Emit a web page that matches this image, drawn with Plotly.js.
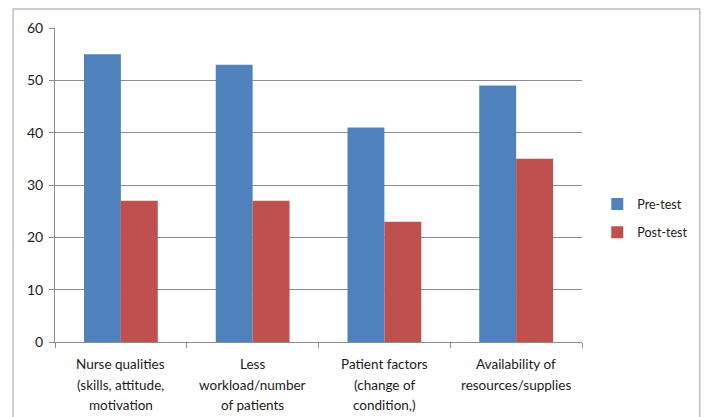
<!DOCTYPE html>
<html>
<head>
<meta charset="utf-8">
<script src="https://cdn.plot.ly/plotly-3.0.1.min.js"></script>
<style>
  html, body { margin: 0; padding: 0; background: #fff; }
  #chart { width: 704px; height: 417px; }
</style>
</head>
<body>
<div id="chart"></div>
<script>
// Factors and scores before / after the intervention
const categories = [
  "Nurse qualities",
  "Less workload",
  "Patient factors",
  "Availability"
];
const categoryLines = [
  ["Nurse qualities", "(skills, attitude,", "motivation"],
  ["Less", "workload/number", "of patients"],
  ["Patient factors", "(change of", "condition,)"],
  ["Availability of", "resources/supplies"]
];
const preTest = [55, 53, 41, 49];
const postTest = [27, 27, 23, 35];
const yTicks = [0, 10, 20, 30, 40, 50, 60];

const FONT = "Lato, 'Open Sans', sans-serif";
const TEXT = "#1a1a1a";
const GRID = "#8c8c8c";

const traces = [
  {
    type: "bar", name: "Pre-test", x: categories, y: preTest,
    marker: { color: "#4F81BD" }, legendgroup: "a", hoverinfo: "y"
  },
  {
    type: "bar", name: "Post-test", x: categories, y: postTest,
    marker: { color: "#C0504D" }, legendgroup: "b", hoverinfo: "y"
  }
];

// Category labels: one annotation per text line so the line spacing stays open
const annotations = [];
categoryLines.forEach((lines, i) => {
  lines.forEach((t, j) => {
    annotations.push({
      xref: "x", yref: "paper", x: categories[i], y: 0,
      yanchor: "middle", xanchor: "center",
      yshift: -22 - j * 20.5,
      text: t, showarrow: false,
      font: { family: FONT, size: 13.5, color: TEXT }
    });
  });
});

const layout = {
  width: 704, height: 417,
  margin: { l: 55, r: 121, t: 28, b: 75 },
  paper_bgcolor: "#fff", plot_bgcolor: "#fff",
  barmode: "group", bargap: 0.44, bargroupgap: 0,
  showlegend: true,
  legend: {
    x: 1.027, y: 0.394, xanchor: "left", yanchor: "middle",
    font: { family: FONT, size: 12.5, color: TEXT },
    tracegroupgap: 9, itemwidth: 30, borderwidth: 0
  },
  xaxis: {
    type: "category", showticklabels: false,
    ticks: "outside", tickson: "boundaries", ticklen: 5,
    tickcolor: GRID, showline: true, linecolor: GRID, linewidth: 1,
    showgrid: false, fixedrange: true
  },
  yaxis: {
    range: [0, 60], tickvals: yTicks, ticktext: yTicks.map(String),
    ticks: "outside", ticklen: 5, tickcolor: GRID,
    showline: true, linecolor: GRID, linewidth: 1,
    showgrid: true, gridcolor: GRID, gridwidth: 1,
    zeroline: false, ticklabelstandoff: 3,
    tickfont: { family: FONT, size: 14, color: TEXT },
    fixedrange: true
  },
  annotations: annotations,
  shapes: [
    {
      // outer chart frame
      type: "rect", xref: "paper", yref: "paper", layer: "below",
      x0: -0.0795, x1: 1.2235, y0: -0.35, y1: 1.0605,
      line: { color: "#bdbdbd", width: 1.5 }, fillcolor: "rgba(0,0,0,0)"
    }
  ]
};

Plotly.newPlot("chart", traces, layout, { displayModeBar: false, staticPlot: true });
</script>
</body>
</html>
